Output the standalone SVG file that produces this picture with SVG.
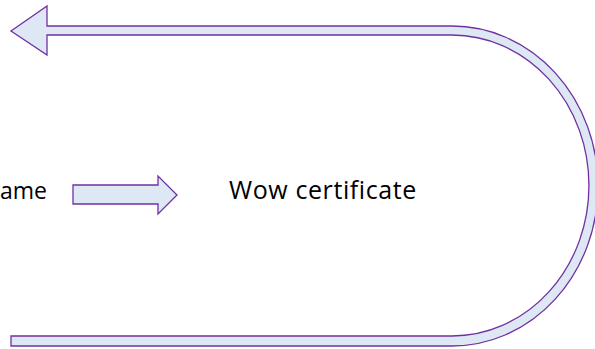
<svg xmlns="http://www.w3.org/2000/svg" width="595" height="349" viewBox="0 0 595 349">
  <style>
    .shape { fill: #dee8f5; stroke: #7030a0; stroke-width: 1.3; stroke-linejoin: miter; }
    .lbl { font-family: "Open Sans", "Liberation Sans", sans-serif; font-size: 23px; fill: #000000; }
  </style>
  <rect width="595" height="349" fill="#ffffff"/>
  <g id="connectors">
    <path id="uturn-arrow" class="shape" d="M11,31 L47,6 L47,26 L452,26 A146,160 0 0 1 452,346 L11,346 L11,336 L452,336 A137,150.5 0 0 0 452,35 L47,35 L47,55 Z"/>
    <path id="mid-arrow" class="shape" d="M73,185 L158,185 L158,176 L177,195 L158,214 L158,204 L73,204 Z"/>
  </g>
  <g id="node-left">
    <text class="lbl" x="47" y="199" text-anchor="end">ame</text>
  </g>
  <g id="node-wow">
    <text class="lbl" x="229" y="199" style="font-size:25px;letter-spacing:0.6px">Wow certificate</text>
  </g>
</svg>
